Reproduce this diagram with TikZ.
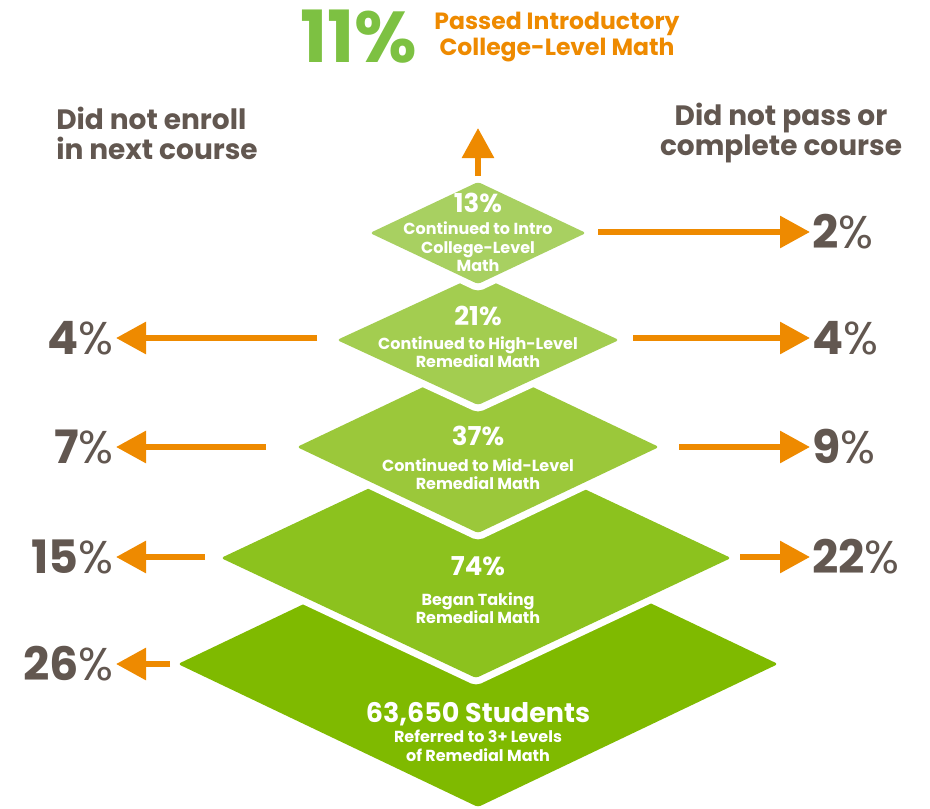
\documentclass[tikz,border=0pt]{standalone}
\usepackage{fontspec}
\setmainfont{Poppins}
\usetikzlibrary{arrows.meta,shapes.geometric}
\definecolor{arrorange}{HTML}{EE8A00}
\definecolor{headgreen}{HTML}{7DC142}
\definecolor{labgray}{HTML}{625750}
\definecolor{lvlA}{HTML}{A8D061}
\definecolor{lvlB}{HTML}{A3CD50}
\definecolor{lvlC}{HTML}{9BC83A}
\definecolor{lvlD}{HTML}{8CC21E}
\definecolor{lvlE}{HTML}{7FBA00}
\newcommand{\pctlab}[1]{{\bfseries #1}{\mdseries\%}}
\tikzset{
  layer/.style={shape=diamond, inner sep=0pt, outer sep=0pt, rounded corners=3pt,
    preaction={draw=white, line width=14pt}, fill=#1},
  arr/.style={draw=arrorange, line width=6pt, -{Triangle[width=31pt,length=30pt]}},
  big/.style={text=white, font=\fontsize{26}{28}\selectfont\bfseries},
  desc/.style={text=white, align=center, font=\fontsize{16}{18.5}\selectfont\bfseries},
  pctl/.style={text=labgray, font=\fontsize{46}{50}\selectfont, inner sep=2pt},
  side/.style={text=labgray, font=\fontsize{28}{30}\selectfont\bfseries}
}
\begin{document}
\begin{tikzpicture}[x=1pt, y=-1pt]
  \useasboundingbox (0,0) rectangle (930,809);
  % the levels, bottom first so the upper ones overlap
  \node [layer=lvlE, minimum width=600pt, minimum height=286pt] (d5) at (478,664) {};
  \node [layer=lvlD, minimum width=510pt, minimum height=240pt] (d4) at (476,558) {};
  \node [layer=lvlC, minimum width=362pt, minimum height=172pt] (d3) at (478,447) {};
  \node [layer=lvlB, minimum width=282pt, minimum height=130pt] (d2) at (478,340) {};
  \node [layer=lvlA, minimum width=216pt, minimum height=102pt] (d1) at (478,233) {};

  \node [big] (n1) at (478,203) {13\%};
  \node [desc] (c1) at (478,247) {Continued to Intro\\College-Level\\Math};
  \node [big] (n2) at (478,316) {21\%};
  \node [desc] (c2) at (478,352) {Continued to High-Level\\Remedial Math};
  \node [big] (n3) at (478,436) {37\%};
  \node [desc] (c3) at (478,474) {Continued to Mid-Level\\Remedial Math};
  \node [big] (n4) at (478,566) {74\%};
  \node [desc] (c4) at (478,608) {Began Taking\\Remedial Math};
  \node [big, font=\fontsize{27}{28}\selectfont\bfseries] (n5) at (478,714) {63,650 Students};
  \node [desc] (c5) at (478,746) {Referred to 3+ Levels\\of Remedial Math};

  % header
  \node [anchor=base east, text=headgreen, font=\fontsize{72}{72}\selectfont\bfseries, inner sep=0pt] (top) at (417,62) {11\%};
  \node [text=arrorange, align=center, font=\fontsize{23.5}{26.5}\selectfont\bfseries] (toptxt) at (557,37) {Passed Introductory\\College-Level Math};
  \node [side, align=left] (lhead) at (157,133) {Did not enroll\\in next course};
  \node [side, align=center] (rhead) at (781,133) {Did not pass or\\complete course};

  % percentages
  \node [pctl, anchor=east] (l2) at (116,338) {\pctlab{4}};
  \node [pctl, anchor=east] (l3) at (116,447) {\pctlab{7}};
  \node [pctl, anchor=east] (l4) at (116,557) {\pctlab{15}};
  \node [pctl, anchor=east] (l5) at (116,664) {\pctlab{26}};
  \node [pctl, anchor=west] (r1) at (810,232) {\pctlab{2}};
  \node [pctl, anchor=west] (r2) at (810,338) {\pctlab{4}};
  \node [pctl, anchor=west] (r3) at (810,447) {\pctlab{9}};
  \node [pctl, anchor=west] (r4) at (810,557) {\pctlab{22}};

  % arrows
  \coordinate (upstart) at (478,176);
  \coordinate (uptip) at (478,128);
  \draw [arr] (upstart) -- (uptip);
  \draw [arr] (598,232) coordinate (a1) -- (r1.west);
  \draw [arr] (317,338) coordinate (b2) -- (l2.east);
  \draw [arr] (633,338) coordinate (a2) -- (r2.west);
  \draw [arr] (266,447) coordinate (b3) -- (l3.east);
  \draw [arr] (679,447) coordinate (a3) -- (r3.west);
  \draw [arr] (205,557) coordinate (b4) -- (l4.east);
  \draw [arr] (740,557) coordinate (a4) -- (r4.west);
  \draw [arr] (170,664) coordinate (b5) -- (l5.east);
\end{tikzpicture}
\end{document}
